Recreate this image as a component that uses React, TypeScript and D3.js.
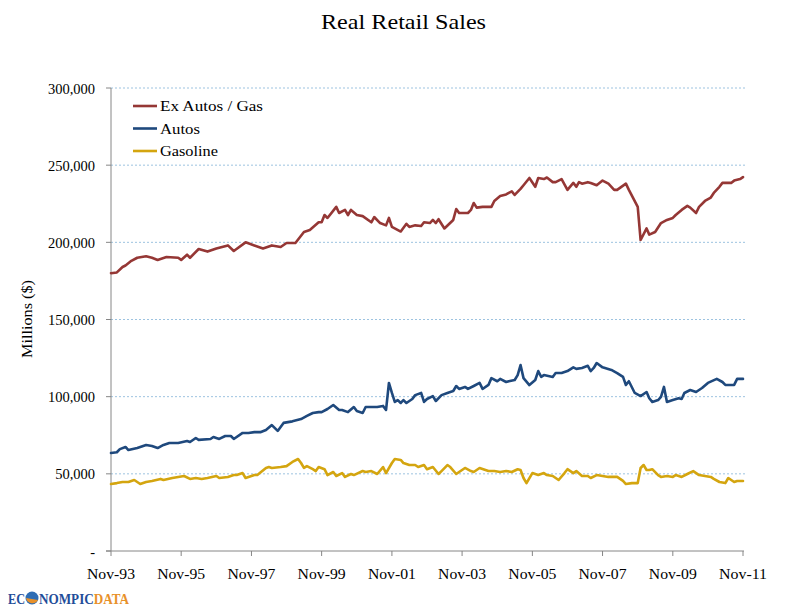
import React from "react";
import * as d3 from "d3";

const exAutosDates = ["1993-11","1994-01","1994-03","1994-04","1994-06","1994-08","1994-11","1995-01","1995-03","1995-06","1995-10","1995-11","1996-01","1996-02","1996-05","1996-08","1996-11","1997-03","1997-05","1997-09","1998-03","1998-06","1998-09","1998-11","1999-02","1999-05","1999-07","1999-10","1999-11","1999-12","2000-01","2000-04","2000-05","2000-07","2000-08","2000-09","2000-11","2001-01","2001-04","2001-05","2001-07","2001-09","2001-10","2001-11","2002-02","2002-04","2002-05","2002-07","2002-09","2002-10","2002-12","2003-01","2003-02","2003-03","2003-05","2003-08","2003-09","2003-10","2004-01","2004-02","2004-03","2004-04","2004-06","2004-09","2004-10","2004-12","2005-02","2005-03","2005-04","2005-05","2005-07","2005-08","2005-10","2005-12","2006-01","2006-03","2006-04","2006-06","2006-07","2006-09","2006-11","2007-01","2007-02","2007-03","2007-04","2007-06","2007-07","2007-09","2007-11","2008-01","2008-03","2008-04","2008-07","2008-08","2008-11","2008-12","2009-02","2009-03","2009-05","2009-07","2009-09","2009-11","2009-12","2010-02","2010-04","2010-05","2010-07","2010-08","2010-10","2010-12","2011-01","2011-03","2011-04","2011-07","2011-08","2011-10","2011-11"];
const exAutosValues = [180000,180500,184000,185000,188000,190000,191000,190000,188600,190500,190000,188600,192000,190000,195700,194000,196000,198000,194400,200000,196000,198000,197000,199600,199600,206700,208000,213000,213000,217700,215800,223000,219000,221000,217700,221000,217700,217000,213000,216400,212500,211000,215800,210000,207000,212000,210000,211000,210600,213000,212500,214500,212500,215000,209000,214500,221600,219000,219000,221000,225500,222500,223000,223000,226800,230000,231000,232000,233000,230700,234600,237000,241700,236000,241700,241000,242000,239000,239000,241000,234000,238500,236000,239000,238000,239000,238500,237000,240000,238000,234000,234000,238000,234000,223000,201500,209000,205000,206700,212500,214500,215800,217700,221000,223600,222500,219000,223000,226800,229000,232000,236000,238500,238500,240000,241000,242300];

const autosDates = ["1993-11","1994-01","1994-02","1994-04","1994-05","1994-08","1994-11","1995-01","1995-03","1995-05","1995-07","1995-10","1996-01","1996-02","1996-04","1996-05","1996-09","1996-10","1996-12","1997-02","1997-04","1997-05","1997-08","1997-10","1997-12","1998-02","1998-04","1998-06","1998-08","1998-10","1999-01","1999-04","1999-06","1999-08","1999-10","1999-11","2000-01","2000-03","2000-05","2000-06","2000-08","2000-10","2000-11","2001-01","2001-02","2001-04","2001-06","2001-08","2001-09","2001-10","2001-11","2001-12","2002-01","2002-02","2002-03","2002-04","2002-06","2002-07","2002-09","2002-10","2002-11","2003-01","2003-02","2003-04","2003-06","2003-08","2003-09","2003-10","2003-12","2004-01","2004-03","2004-05","2004-06","2004-08","2004-09","2004-11","2004-12","2005-02","2005-03","2005-05","2005-06","2005-07","2005-08","2005-10","2005-12","2006-01","2006-02","2006-03","2006-06","2006-07","2006-09","2006-11","2007-01","2007-02","2007-04","2007-06","2007-07","2007-08","2007-09","2007-11","2008-02","2008-04","2008-06","2008-07","2008-08","2008-10","2008-12","2009-02","2009-03","2009-04","2009-06","2009-07","2009-08","2009-09","2009-11","2010-01","2010-02","2010-03","2010-05","2010-07","2010-09","2010-11","2011-02","2011-04","2011-05","2011-08","2011-09","2011-11"];
const autosValues = [63500,64000,66000,67400,65400,66700,68700,68000,66700,68700,70000,70000,71300,70600,73200,72000,72600,73900,72600,74500,74500,72600,76500,76500,77000,77000,78400,81600,77800,83000,84000,85500,87500,89400,90000,90000,92000,94600,91400,91400,90000,93300,90700,89400,93300,93300,93300,94000,91400,108900,102400,96600,97800,95900,97800,95900,98500,101000,102400,96600,98500,100400,97200,101000,102400,103700,106900,105000,106300,105000,106900,108900,105000,107600,112000,110000,111500,109500,110000,110800,114000,120500,112000,107500,110800,116600,112800,114000,112800,115300,115300,116600,119000,118000,118600,120000,116600,118600,121800,119000,117300,115300,112800,107600,110000,102400,100400,103000,99000,96600,97800,99800,106300,96600,97800,99000,98500,102400,104300,103000,105600,108900,111500,109500,107600,107600,111500,111500];

const gasolineDates = ["1993-11","1994-01","1994-03","1994-05","1994-07","1994-09","1994-11","1995-01","1995-04","1995-05","1995-08","1995-10","1995-12","1996-02","1996-04","1996-06","1996-08","1996-11","1996-12","1997-03","1997-05","1997-06","1997-08","1997-09","1997-12","1998-01","1998-04","1998-05","1998-06","1998-09","1998-11","1999-01","1999-03","1999-04","1999-05","1999-06","1999-08","1999-09","1999-10","1999-12","2000-01","2000-03","2000-04","2000-06","2000-07","2000-09","2000-10","2001-01","2001-02","2001-04","2001-06","2001-08","2001-09","2001-11","2001-12","2002-02","2002-03","2002-05","2002-07","2002-08","2002-10","2002-11","2003-01","2003-03","2003-04","2003-06","2003-07","2003-09","2003-10","2003-12","2004-02","2004-03","2004-05","2004-08","2004-10","2004-12","2005-02","2005-04","2005-06","2005-07","2005-08","2005-09","2005-11","2006-01","2006-03","2006-04","2006-06","2006-08","2006-10","2006-11","2007-01","2007-02","2007-04","2007-06","2007-07","2007-09","2007-11","2008-01","2008-03","2008-04","2008-06","2008-07","2008-09","2008-11","2008-12","2009-01","2009-02","2009-03","2009-04","2009-06","2009-07","2009-09","2009-11","2009-12","2010-02","2010-04","2010-06","2010-08","2010-10","2010-12","2011-01","2011-03","2011-05","2011-06","2011-08","2011-09","2011-11"];
const gasolineValues = [43400,44000,44700,44700,46000,43400,44700,45400,46700,46000,47300,48000,48600,46700,47300,46700,47300,48600,47300,48000,49200,49200,50500,47300,49200,49200,53800,54400,53800,54400,55000,57700,59600,57000,53800,55000,53000,51800,54400,53000,49200,51200,48600,50500,48000,49900,49200,51800,51200,51800,49900,54400,50500,57000,59600,59000,57000,55700,55700,54400,55700,53000,54400,49900,51800,55700,54400,49900,51200,53800,51800,51200,53800,51800,51800,51200,51800,51200,53000,52500,47300,44000,50500,49200,50500,49200,48600,46000,50500,53000,50500,51800,48600,48600,47300,49200,48600,48000,48000,48000,45400,43400,44000,44000,53800,55700,52500,52500,53000,49200,48000,48600,48000,49200,48000,49900,51800,49200,48600,48000,46700,44700,44000,47300,44700,45400,45400];

const seriesNames = ["Ex Autos / Gas", "Autos", "Gasoline"];
const seriesColors = ["#953735", "#1F497D", "#D4A50F"];
const yTicks = [0, 50000, 100000, 150000, 200000, 250000, 300000];
const xTickLabels = ["Nov-93", "Nov-95", "Nov-97", "Nov-99", "Nov-01", "Nov-03", "Nov-05", "Nov-07", "Nov-09", "Nov-11"];

const FONT = "'Palatino Linotype', 'Book Antiqua', Palatino, 'Liberation Serif', serif";
const legendWidths = [103, 40, 58];

export default function App() {
  const parse = d3.timeParse("%Y-%m");
  const parseTick = d3.timeParse("%b-%y");
  const x = d3
    .scaleTime()
    .domain([parse("1993-11") as Date, parse("2011-11") as Date])
    .range([111, 743]);
  const y = d3.scaleLinear().domain([0, 300000]).range([551, 88]);

  const line = d3
    .line<[Date, number]>()
    .x((d) => x(d[0]))
    .y((d) => y(d[1]))
    .curve(d3.curveLinear);

  const series = [
    { name: seriesNames[0], color: seriesColors[0], dates: exAutosDates, values: exAutosValues },
    { name: seriesNames[1], color: seriesColors[1], dates: autosDates, values: autosValues },
    { name: seriesNames[2], color: seriesColors[2], dates: gasolineDates, values: gasolineValues },
  ];

  const fmt = d3.format(",");

  return (
    <svg width={800} height={608} style={{ position: "absolute", left: 0, top: 0, background: "#fff" }} fontFamily={FONT}>
      <rect x={0} y={0} width={800} height={608} fill="#fff" />
      <text x={403.5} y={29} textAnchor="middle" fontSize={22} fill="#000" textLength={165} lengthAdjust="spacingAndGlyphs">
        Real Retail Sales
      </text>
      {/* gridlines */}
      {yTicks.filter((t) => t > 0).map((t) => (
        <line key={"g" + t} x1={111} x2={745} y1={y(t)} y2={y(t)} stroke="#9DC3E0" strokeWidth={1} strokeDasharray="2,2" />
      ))}
      {/* y axis */}
      <line x1={111} x2={111} y1={88} y2={551} stroke="#868686" strokeWidth={1} />
      {yTicks.map((t) => (
        <g key={"yt" + t}>
          <line x1={106} x2={111} y1={y(t)} y2={y(t)} stroke="#868686" />
          <text x={95} y={y(t)} dy="0.38em" textAnchor="end" fontSize={14.5} fill="#000">
            {t === 0 ? "-" : fmt(t)}
          </text>
        </g>
      ))}
      <text transform={`translate(32,319) rotate(-90)`} textAnchor="middle" fontSize={14.5} fill="#000" textLength={78} lengthAdjust="spacingAndGlyphs">
        Millions ($)
      </text>
      {/* x axis */}
      <line x1={106} x2={744} y1={551} y2={551} stroke="#868686" strokeWidth={1} />
      {xTickLabels.map((lab) => {
        const d = parseTick(lab) as Date;
        const xx = x(d);
        return (
          <g key={lab}>
            <line x1={xx} x2={xx} y1={551} y2={556} stroke="#868686" />
            <text x={xx} y={579} textAnchor="middle" fontSize={14.5} fill="#000" textLength={48} lengthAdjust="spacingAndGlyphs">
              {lab}
            </text>
          </g>
        );
      })}
      {/* lines */}
      {series.map((s) => (
        <path
          key={s.name}
          d={line(s.dates.map((dt, i) => [parse(dt) as Date, s.values[i]])) || ""}
          fill="none"
          stroke={s.color}
          strokeWidth={2.6}
          strokeLinejoin="round"
          strokeLinecap="round"
        />
      ))}
      {/* legend */}
      {series.map((s, i) => (
        <g key={"lg" + i}>
          <line x1={133} x2={157} y1={106 + i * 22.5} y2={106 + i * 22.5} stroke={s.color} strokeWidth={2.6} />
          <text x={160} y={106 + i * 22.5} dy="0.36em" fontSize={15} fill="#000" textLength={legendWidths[i]} lengthAdjust="spacingAndGlyphs">
            {s.name}
          </text>
        </g>
      ))}
      {/* logo */}
      <g fontFamily="'Liberation Serif', serif" fontWeight="bold" fontSize={14}>
        <text x={8} y={604} fill="#1F4E9A" textLength={17} lengthAdjust="spacingAndGlyphs">EC</text>
        <circle cx={32} cy={598} r={6.5} fill="#2E6DB4" />
        <path d="M26,598 a6.5,6.5 0 0 0 12,2 z" fill="#E8912A" />
        <text x={39} y={604} textLength={90} lengthAdjust="spacingAndGlyphs">
          <tspan fill="#1F4E9A">NOMPIC</tspan>
          <tspan fill="#E8912A">DATA</tspan>
        </text>
      </g>
    </svg>
  );
}
